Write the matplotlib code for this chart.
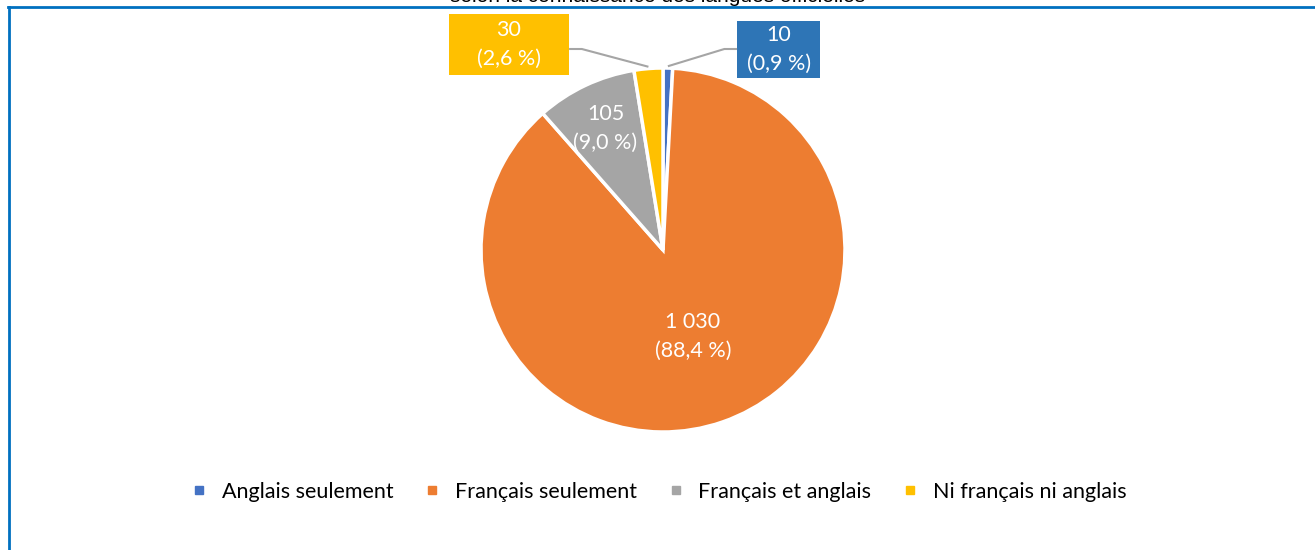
import numpy as np
import matplotlib.pyplot as plt
from matplotlib.lines import Line2D
from matplotlib.patches import Rectangle

categories = ['Anglais seulement', 'Français seulement', 'Français et anglais', 'Ni français ni anglais']
values = [10, 1030, 105, 30]
value_labels = ['10', '1 030', '105', '30']
pct_labels = ['0,9 %', '88,4 %', '9,0 %', '2,6 %']
colors = ['#4472C4', '#ED7D31', '#A5A5A5', '#FFC000']
title = 'selon la connaissance des langues officielles'

plt.rcParams['font.family'] = ['Lato', 'DejaVu Sans']

W, H = 1315, 550
fig = plt.figure(figsize=(W / 100, H / 100), dpi=100)

# pie centre and radius in pixels
cx, cy, r = 663, 250, 182
ax = fig.add_axes([(cx - r) / W, (H - cy - r) / H, 2 * r / W, 2 * r / H])
wedges, _ = ax.pie(values, colors=colors, startangle=90, counterclock=False,
                   wedgeprops=dict(edgecolor='white', linewidth=2.5))
ax.set_xlim(-1, 1)
ax.set_ylim(-1, 1)
ax.set_aspect('equal')
ax.axis('off')


def mid_angle(w):
    return np.deg2rad((w.theta1 + w.theta2) / 2)


def label_text(i):
    return value_labels[i] + '\n(' + pct_labels[i] + ')'


LBL_SIZE = 15.5

# inside labels
for i, dist in [(1, 0.50), (2, 0.74)]:
    a = mid_angle(wedges[i])
    ax.text(dist * np.cos(a), dist * np.sin(a), label_text(i), ha='center', va='center',
            color='white', fontsize=LBL_SIZE, linespacing=1.55)

# outside labels with boxes and leader lines
# (box origin, width, height, colour, edge facing the pie, direction towards pie)
boxes = {0: ((0.407, 0.945), 0.456, 0.313, '#2E75B6', 0.407, -1),
         3: ((-1.176, 0.962), 0.660, 0.335, '#FFC000', -0.516, 1)}
elbow_y = (cy - 49) / r
for i, ((bx, by), bw, bh, bc, edge_x, d) in boxes.items():
    ax.add_patch(Rectangle((bx, by), bw, bh, facecolor=bc, edgecolor='none', clip_on=False))
    ax.text(bx + bw / 2, by + bh / 2, label_text(i), ha='center', va='center',
            color='white', fontsize=LBL_SIZE, linespacing=1.55, clip_on=False)
    a = mid_angle(wedges[i])
    px, py = np.cos(a), np.sin(a)
    elbow_x = edge_x + d * 0.07
    ax.plot([px, elbow_x, edge_x], [py + 0.01, elbow_y, elbow_y], color='#A5A5A5',
            linewidth=1.5, clip_on=False, solid_capstyle='butt')

# legend
handles = [Line2D([], [], marker='s', linestyle='none', markersize=6,
                  markerfacecolor=c, markeredgecolor=c) for c in colors]
fig.legend(handles, categories, loc='center', bbox_to_anchor=(0.5, 1 - 492 / H),
           ncol=4, frameon=False, fontsize=15.5, handletextpad=0.55, columnspacing=1.3,
           handlelength=1.0)

# title, cut off at the top as in the original
fig.text(0.5, 1 - 1.5 / H, title, ha='center', va='baseline', fontsize=15,
         family=['Liberation Sans', 'DejaVu Sans'])

# blue frame
frame_c = '#0070C0'
fig.add_artist(Line2D([8 / W, 1.0], [1 - 7 / H, 1 - 7 / H], color=frame_c, linewidth=2,
                      transform=fig.transFigure))
fig.add_artist(Line2D([9 / W, 9 / W], [0, 1 - 7 / H], color=frame_c, linewidth=2,
                      transform=fig.transFigure))

fig.savefig('out.png', dpi=100)
